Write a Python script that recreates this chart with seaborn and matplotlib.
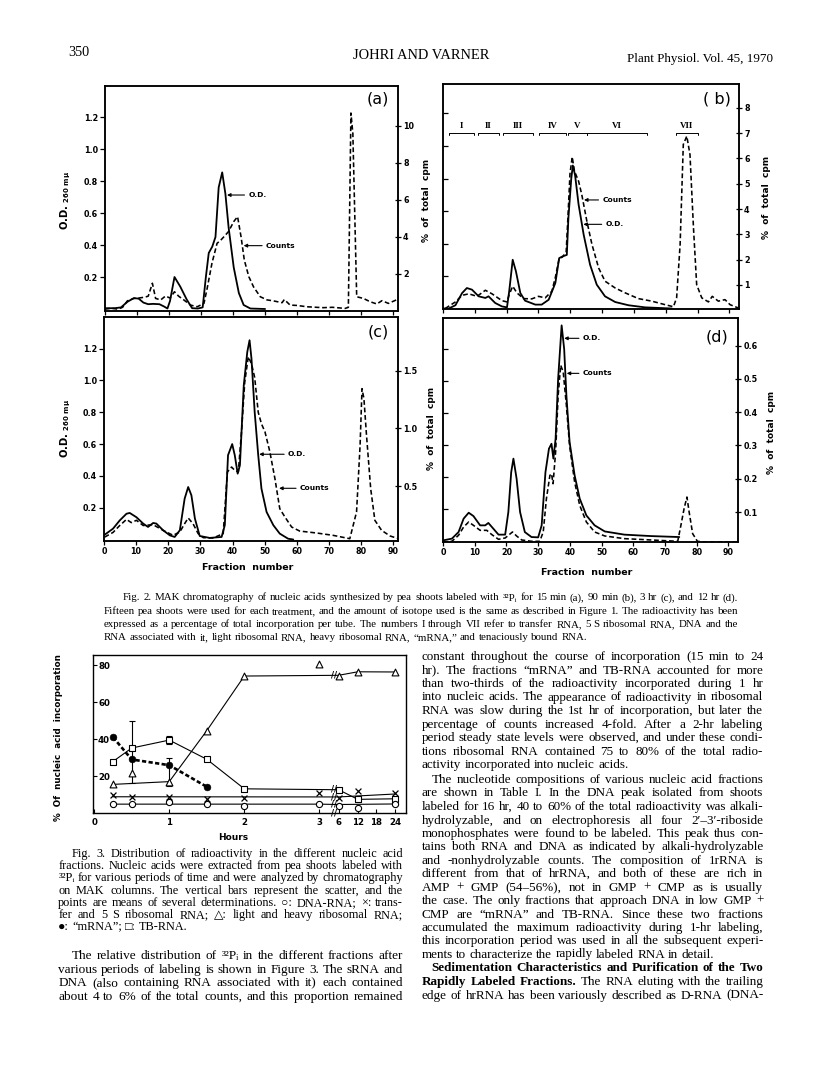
import matplotlib
matplotlib.use("Agg")
import numpy as np
import matplotlib.pyplot as plt
from matplotlib.font_manager import FontProperties
import seaborn as sns

sns.set_style("ticks")
plt.rcParams["font.family"] = ["DejaVu Sans"]
plt.rcParams["axes.linewidth"] = 1.1
plt.rcParams["axes.edgecolor"] = "black"
plt.rcParams["xtick.color"] = "black"
plt.rcParams["ytick.color"] = "black"
plt.rcParams["text.color"] = "black"
plt.rcParams["axes.labelcolor"] = "black"

SERIF = ["Liberation Serif", "DejaVu Serif", "DejaVu Sans"]

# ---------------------------------------------------------------- Fig. 2 data
FR_TICKS = [0, 10, 20, 30, 40, 50, 60, 70, 80, 90]
OD_TICKS = [0.2, 0.4, 0.6, 0.8, 1.0, 1.2]

# (a) 15 min
a_od_x = [0, 3, 5, 7, 9, 10.5, 12, 13.5, 15, 17, 18.5, 19.5, 20.3, 21.7, 23.5, 25.5, 27.2, 29, 30.5, 31.5,
          32.4, 33.5, 34.5, 35.5, 36.6, 37.6, 38.6, 40.2, 41.8, 43.3, 45.4, 50]
a_od_y = [0.005, 0.005, 0.01, 0.045, 0.068, 0.065, 0.04, 0.03, 0.032, 0.03, 0.015, 0.003, 0.05, 0.2, 0.14,
          0.06, 0.005, 0.003, 0.01, 0.2, 0.35, 0.39, 0.45, 0.76, 0.854, 0.72, 0.51, 0.26, 0.1, 0.025, 0.003, 0]
a_c_x = [0, 2, 4, 5.5, 7, 9, 10.5, 12.2, 13.5, 14.8, 15.8, 17.4, 18.9, 20.3, 21.7, 23, 24.6, 26.7, 28.8, 30.9,
         31.9, 33.4, 35, 36, 37.6, 38.6, 40.2, 41.4, 42.5, 43.5, 44.9, 46.4, 48.5, 50.6, 52.5, 55.3, 56, 57.8,
         60, 63, 66, 68.2, 71, 75, 76, 76.8, 77.4, 78.6, 80.7, 82.8, 84.9, 86.5, 88.5, 91]
a_c_y = [0.1, 0.15, 0.1, 0.2, 0.55, 0.68, 0.7, 0.74, 0.8, 1.5, 0.68, 0.6, 0.81, 0.7, 1.04, 0.8, 0.6, 0.32,
         0.23, 0.41, 1.22, 2.58, 3.66, 3.8, 4.1, 4.3, 4.83, 5.1, 4.0, 2.76, 1.86, 1.3, 0.77, 0.6, 0.55, 0.45,
         0.62, 0.32, 0.3, 0.23, 0.2, 0.18, 0.2, 0.14, 0.2, 10.7, 9.6, 0.77, 0.68, 0.5, 0.38, 0.56, 0.41, 0.6]

# (b) 90 min
b_od_x = [0, 1.8, 3.9, 6, 7.5, 9.1, 11.2, 13.3, 14.3, 16.4, 18.5, 20.1, 20.8, 21.9, 22.9, 24.3, 25.8, 29,
          31, 33.2, 35.3, 36.5, 37.5, 38.9, 39.4, 40.3, 40.8, 41.5, 42.6, 44.2, 46.2, 48.3, 50.9, 54.1, 58.3,
          63.5, 71.9]
b_od_y = [0, 0, 0.02, 0.095, 0.126, 0.116, 0.075, 0.065, 0.075, 0.034, 0.013, 0.007, 0.106, 0.3, 0.23, 0.095,
          0.048, 0.024, 0.024, 0.054, 0.157, 0.31, 0.32, 0.33, 0.557, 0.8, 0.88, 0.82, 0.64, 0.454, 0.27, 0.147,
          0.075, 0.04, 0.02, 0.007, 0]
b_c_x = [0.7, 3.9, 6, 8.1, 10.7, 13.3, 15.4, 18.5, 20.1, 20.8, 21.9, 23.2, 25.3, 27.9, 30, 32.1, 34.2, 35.3,
         36.5, 37.5, 38.7, 39.3, 39.9, 40.6, 41.3, 42.6, 43.6, 45.2, 46.8, 48.9, 50.9, 54.1, 57.2, 61.4, 65.6,
         69.8, 72.4, 73.4, 74.5, 75.5, 76.6, 77.6, 78.7, 79.7, 81.3, 83.4, 84.6, 86.5, 88.6, 90.2, 92.8]
b_c_y = [0.07, 0.33, 0.59, 0.65, 0.55, 0.79, 0.65, 0.38, 0.33, 0.62, 0.95, 0.69, 0.46, 0.45, 0.55, 0.49, 0.75,
         1.3, 2.05, 2.1, 2.3, 3.8, 5.4, 6.06, 5.5, 5.1, 4.57, 3.52, 2.6, 1.67, 1.15, 0.88, 0.69, 0.46, 0.36,
         0.22, 0.14, 0.49, 2.6, 6.55, 6.88, 6.15, 3.25, 1.01, 0.49, 0.33, 0.55, 0.36, 0.42, 0.22, 0.09]
roman_labels = ["I", "II", "III", "IV", "V", "VI", "VII"]
roman_start = [2, 10.9, 18.8, 30.3, 39.4, 45.2, 73.2]
roman_end = [9.6, 17.7, 28.3, 38.7, 45.2, 64.2, 80]

# (c) 3 hr
c_od_x = [0.2, 2.8, 4.9, 7, 8, 10.1, 12.2, 13.7, 15.3, 16.3, 18.4, 20.5, 22, 23.6, 25.1, 26.2, 27.2, 28.3,
          29.8, 32.9, 36.6, 37.6, 38.6, 39.9, 40.7, 41.6, 42.3, 43.5, 44.6, 45.3, 45.9, 46.9, 48, 49, 50.6,
          52.7, 54.7, 57.3, 58.9]
c_od_y = [0.03, 0.068, 0.12, 0.162, 0.167, 0.14, 0.1, 0.079, 0.104, 0.1, 0.058, 0.026, 0.016, 0.058, 0.257,
          0.33, 0.278, 0.131, 0.022, 0.01, 0.016, 0.09, 0.53, 0.6, 0.53, 0.414, 0.467, 0.97, 1.18, 1.253,
          1.137, 0.8, 0.53, 0.32, 0.173, 0.09, 0.037, 0.005, 0]
c_c_x = [0.2, 2.8, 4.9, 7, 8.5, 10.1, 12.2, 15.3, 18.4, 21.5, 23.6, 25.1, 26.2, 27.7, 29.3, 30.9, 34, 37.1,
         38.4, 39.7, 40.7, 41.8, 42.8, 43.8, 44.9, 45.9, 46.9, 48, 49, 50.1, 51.6, 53.2, 54.7, 56.3, 58.4,
         60.9, 66.2, 71.3, 76.5, 78.6, 79.7, 80.3, 80.9, 81.7, 83, 84.3, 86.4, 89, 91.6]
c_c_y = [0.06, 0.1, 0.16, 0.213, 0.185, 0.205, 0.16, 0.167, 0.118, 0.075, 0.104, 0.176, 0.225, 0.176, 0.09,
         0.055, 0.052, 0.09, 0.623, 0.666, 0.637, 0.623, 0.97, 1.4, 1.62, 1.56, 1.44, 1.14, 1.04, 0.97, 0.8,
         0.565, 0.306, 0.234, 0.147, 0.112, 0.095, 0.075, 0.046, 0.277, 0.854, 1.344, 1.257, 0.94, 0.479,
         0.205, 0.118, 0.07, 0.046]

# (d) 12 hr
d_od_x = [0, 2.8, 4.9, 6.5, 8.1, 9.6, 11.7, 13.3, 14.3, 15.4, 17.5, 19.6, 20.6, 21.5, 22.2, 23.2, 24.3, 25.8,
          27.9, 30, 31.1, 32.3, 33.4, 34.2, 34.8, 35.5, 36.3, 37.4, 38.2, 38.9, 39.9, 41.5, 43.1, 45.2, 47.8,
          51, 57.2, 65.6, 74.5]
d_od_y = [0.004, 0.015, 0.056, 0.14, 0.177, 0.156, 0.098, 0.098, 0.113, 0.088, 0.04, 0.04, 0.181, 0.43,
          0.515, 0.39, 0.181, 0.056, 0.025, 0.023, 0.098, 0.43, 0.577, 0.608, 0.515, 0.64, 1.015, 1.348, 1.2,
          0.91, 0.62, 0.41, 0.265, 0.16, 0.098, 0.06, 0.04, 0.031, 0.025]
d_c_x = [0, 2.8, 4.9, 6.5, 8.1, 9.6, 11.7, 13.8, 15.4, 17.5, 19.6, 21.9, 23.2, 24.8, 27.9, 30.5, 31.6, 32.6,
         33.7, 34.2, 34.7, 35.5, 36.3, 37.1, 37.9, 38.9, 39.9, 41.5, 43.1, 45.2, 47.8, 51, 57.2, 65.6, 74,
         75, 76, 76.9, 77.6, 78.7, 80.2, 82.3, 92.8]
d_c_y = [0.01, 0.012, 0.03, 0.055, 0.07, 0.06, 0.045, 0.045, 0.032, 0.018, 0.022, 0.04, 0.028, 0.016, 0.012,
         0.012, 0.04, 0.14, 0.21, 0.215, 0.185, 0.28, 0.45, 0.541, 0.521, 0.42, 0.3, 0.19, 0.12, 0.07, 0.04,
         0.028, 0.02, 0.016, 0.012, 0.06, 0.11, 0.145, 0.1, 0.035, 0.012, 0.01, 0.01]

# ---------------------------------------------------------------- Fig. 3 data
HOUR_TICKS = [0, 1, 2, 3, 6, 12, 18, 24]
PCT_TICKS = [20, 40, 60, 80]
tri_h = [0.25, 0.5, 1, 1.5, 2, 3, 6, 12, 24]
tri_v = [15.5, 21.6, 17, 44.6, 74.2, 80.9, 74.0, 76.5, 76.4]
tri_line_h = [0.25, 1, 1.5, 2, 6, 12, 24]
tri_line_v = [15.5, 17, 44.6, 74.2, 74.6, 76.5, 76.4]
sq_h = [0.25, 0.5, 1, 1.5, 2, 6, 12, 24]
sq_v = [27.9, 35.2, 39.5, 29.1, 13.1, 12.6, 7.4, 7.7]
mrna_h = [0.25, 0.5, 1, 1.5]
mrna_v = [41.1, 29.0, 25.9, 14.2]
x_h = [0.25, 0.5, 1, 1.5, 2, 3, 6, 12, 24]
x_v = [9.9, 8.4, 8.7, 7.7, 8.2, 10.8, 8.3, 11.7, 10.6]
x_line_h = [0.25, 6, 24]
x_line_v = [8.8, 8.7, 10.3]
circ_h = [0.25, 0.5, 1, 1.5, 2, 3, 6, 12, 24]
circ_v = [4.85, 4.85, 5.8, 4.8, 3.6, 5.0, 3.8, 2.7, 4.9]
circ_line_h = [0.25, 3, 6, 24]
circ_line_v = [4.8, 4.8, 4.6, 4.9]
err_h = [0.5, 1, 1]
err_lo = [16, 14.5, 37.5]
err_hi = [50, 30, 41.5]
break_h = 5.3
break_v = [74.8, 13.0, 8.7, 4.7, 0]

# ---------------------------------------------------------------- figure
W, H = 816, 1066
fig = plt.figure(figsize=(W / 100, H / 100), dpi=100)
fig.patch.set_facecolor("white")
renderer = fig.canvas.get_renderer()


def rect(x0, y0, x1, y1):
    return [x0 / W, 1 - y1 / H, (x1 - x0) / W, (y1 - y0) / H]


TK = dict(fontsize=5.8, fontweight="bold")


def panel(px, od_x, od_y, c_x, c_y, xlim, od_lim, c_lim, c_ticks, c_fmt, show_left, show_bottom):
    ax = fig.add_axes(rect(*px))
    sns.lineplot(x=od_x, y=od_y, ax=ax, color="black", linewidth=1.3, estimator=None, sort=False)
    ax2 = ax.twinx()
    sns.lineplot(x=c_x, y=c_y, ax=ax2, color="black", linewidth=1.15, estimator=None, sort=False)
    ax2.get_lines()[-1].set_dashes((3.0, 1.7))
    ax.set_xlim(*xlim)
    ax.set_ylim(*od_lim)
    ax2.set_ylim(*c_lim)
    ax.set_xticks(FR_TICKS, labels=[str(t) for t in FR_TICKS], **TK)
    ax.set_yticks(OD_TICKS, labels=["%.1f" % t for t in OD_TICKS], **TK)
    ax2.set_yticks(c_ticks, labels=[c_fmt % t for t in c_ticks], **TK)
    ax.tick_params(axis="x", direction="out", length=3, width=0.9, pad=1.2, labelbottom=show_bottom, top=False)
    ax.tick_params(axis="y", direction="out" if show_left else "in", length=3.5, width=0.9, pad=1.5,
                   labelleft=show_left, right=False)
    ax2.tick_params(axis="y", direction="inout", length=5, width=0.9, pad=1.2)
    for sp in list(ax.spines.values()) + list(ax2.spines.values()):
        sp.set_linewidth(1.1)
        sp.set_color("black")
    ax.set_xlabel("")
    ax.set_ylabel("")
    ax2.set_ylabel("")
    return ax, ax2


def arrows(ax, items):
    for label, tx, ty, lx in items:
        ax.annotate(label, xy=(tx, ty), xytext=(lx, ty), fontsize=5.4, fontweight="bold", ha="left",
                    va="center",
                    arrowprops=dict(arrowstyle="-|>", color="black", lw=0.8, mutation_scale=5,
                                    shrinkA=0.5, shrinkB=0))


OD_LABEL = r"O.D. $_{\mathregular{260\ m\mu}}$"
CPM_LABEL = "%  of  total  cpm"

# (a)
ax_a, ax_a2 = panel((105, 86, 398, 311), a_od_x, a_od_y, a_c_x, a_c_y, (0, 91.5), (-0.0125, 1.394),
                    (0, 12.16), [2, 4, 6, 8, 10], "%d", True, False)
ax_a.set_ylabel(OD_LABEL, fontsize=7.2, fontweight="bold")
ax_a.yaxis.set_label_coords(-0.11, 0.49)
ax_a2.set_ylabel(CPM_LABEL, fontsize=6.5, fontweight="bold", rotation=90)
ax_a2.yaxis.set_label_coords(1.082, 0.49)
ax_a.text(0.932, 0.942, "(a)", transform=ax_a.transAxes, fontsize=11.5, ha="center", va="center")
arrows(ax_a, [("O.D.", 38.1, 0.7125, 44.8), ("Counts", 43.3, 0.396, 50.3)])

# (b)
ax_b, ax_b2 = panel((443, 84, 739, 309), b_od_x, b_od_y, b_c_x, b_c_y, (0, 93), (-0.003, 1.3815),
                    (0.05, 8.94), [1, 2, 3, 4, 5, 6, 7, 8], "%d", False, False)
ax_b2.set_ylabel(CPM_LABEL, fontsize=6.5, fontweight="bold", rotation=90)
ax_b2.yaxis.set_label_coords(1.077, 0.498)
ax_b.text(0.925, 0.933, "( b)", transform=ax_b.transAxes, fontsize=11.5, ha="center", va="center")
arrows(ax_b, [("Counts", 44.3, 0.668, 50.1), ("O.D.", 44.1, 0.518, 51.1)])
for lab, s, e in zip(roman_labels, roman_start, roman_end):
    ax_b.plot([s, s, e, e], [1.066, 1.082, 1.082, 1.066], color="black", lw=0.7)
    ax_b.text((s + e) / 2, 1.125, lab, family=SERIF, fontsize=6.5, fontweight="bold", ha="center",
              va="center")

# (c)
ax_c, ax_c2 = panel((104, 317, 398, 541), c_od_x, c_od_y, c_c_x, c_c_y, (0, 91.5), (-0.0094, 1.399),
                    (0.026, 1.964), [0.5, 1.0, 1.5], "%.1f", True, True)
ax_c.set_ylabel(OD_LABEL, fontsize=7.2, fontweight="bold")
ax_c.yaxis.set_label_coords(-0.105, 0.504)
ax_c2.set_ylabel(CPM_LABEL, fontsize=6.5, fontweight="bold", rotation=90)
ax_c2.yaxis.set_label_coords(1.098, 0.504)
ax_c.set_xlabel("Fraction  number", fontsize=6.8, fontweight="bold")
ax_c.xaxis.set_label_coords(0.49, -0.098)
ax_c.text(0.932, 0.934, "(c)", transform=ax_c.transAxes, fontsize=11.5, ha="center", va="center")
arrows(ax_c, [("O.D.", 48.3, 0.536, 57.3), ("Counts", 54.5, 0.322, 61.0)])

# (d)
ax_d, ax_d2 = panel((443, 318, 738, 542), d_od_x, d_od_y, d_c_x, d_c_y, (0, 93), (-0.006, 1.394),
                    (0.0099, 0.683), [0.1, 0.2, 0.3, 0.4, 0.5, 0.6], "%.1f", False, True)
ax_d2.set_ylabel(CPM_LABEL, fontsize=6.5, fontweight="bold", rotation=90)
ax_d2.yaxis.set_label_coords(1.097, 0.49)
ax_d.set_xlabel("Fraction  number", fontsize=6.8, fontweight="bold")
ax_d.xaxis.set_label_coords(0.487, -0.116)
ax_d.text(0.928, 0.917, "(d)", transform=ax_d.transAxes, fontsize=11.5, ha="center", va="center")
arrows(ax_d, [("O.D.", 38.2, 1.267, 44.1), ("Counts", 39.0, 1.048, 44.1)])

# ---------------------------------------------------------------- Fig. 3
H_K = [-100, 0, 3, 6, 12, 18, 24, 100]
U_K = [-100, 0, 3, 3.256, 3.512, 3.752, 4.013, 4.013 + 76 * 0.0435]


def fwd(h):
    return np.interp(h, H_K, U_K)


def inv(u):
    return np.interp(u, U_K, H_K)


ax3 = fig.add_axes(rect(92.7, 655, 405.7, 813))
sns.lineplot(x=tri_line_h, y=tri_line_v, ax=ax3, color="black", linewidth=0.8, estimator=None, sort=False)
sns.lineplot(x=sq_h, y=sq_v, ax=ax3, color="black", linewidth=0.8, estimator=None, sort=False)
sns.lineplot(x=x_line_h, y=x_line_v, ax=ax3, color="black", linewidth=0.8, estimator=None, sort=False)
sns.lineplot(x=circ_line_h, y=circ_line_v, ax=ax3, color="black", linewidth=0.8, estimator=None, sort=False)
sns.lineplot(x=mrna_h, y=mrna_v, ax=ax3, color="black", linewidth=1.9, estimator=None, sort=False)
ax3.get_lines()[-1].set_dashes((1.6, 0.9))
mid = [(lo + hi) / 2 for lo, hi in zip(err_lo, err_hi)]
ax3.errorbar(err_h, mid, yerr=[[m - lo for m, lo in zip(mid, err_lo)], [hi - m for m, hi in zip(mid, err_hi)]],
             fmt="none", ecolor="black", elinewidth=0.8, capsize=2.5, capthick=0.8)
sns.scatterplot(x=tri_h, y=tri_v, ax=ax3, marker="^", s=24, color="white", edgecolor="black", linewidth=0.8,
                zorder=4)
sns.scatterplot(x=sq_h, y=sq_v, ax=ax3, marker="s", s=20, color="white", edgecolor="black", linewidth=0.8,
                zorder=4)
sns.scatterplot(x=circ_h, y=circ_v, ax=ax3, marker="o", s=20, color="white", edgecolor="black",
                linewidth=0.8, zorder=4)
sns.scatterplot(x=x_h, y=x_v, ax=ax3, marker="x", s=18, color="black", linewidth=0.9, zorder=4)
sns.scatterplot(x=mrna_h, y=mrna_v, ax=ax3, marker="o", s=24, color="black", edgecolor="black", zorder=5)
for bv in break_v:
    ax3.text(break_h, bv, "//", fontsize=6, fontweight="bold", ha="center", va="center", clip_on=False,
             zorder=6)
ax3.set_xscale("function", functions=(fwd, inv))
ax3.set_xlim(inv(-0.02), inv(4.15))
ax3.set_ylim(0, 85.6)
ax3.set_xticks(HOUR_TICKS, labels=[str(t) for t in HOUR_TICKS], fontsize=6.2, fontweight="bold")
ax3.set_yticks(PCT_TICKS, labels=[str(t) for t in PCT_TICKS], fontsize=6.2, fontweight="bold")
ax3.minorticks_off()
ax3.tick_params(axis="x", direction="in", length=3, width=0.8, pad=3.5, top=False)
ax3.tick_params(axis="y", direction="in", length=3, width=0.8, pad=-12.5, right=False)
for sp in ax3.spines.values():
    sp.set_linewidth(1.0)
    sp.set_color("black")
ax3.set_xlabel("Hours", fontsize=6.5, fontweight="bold")
ax3.xaxis.set_label_coords(0.448, -0.127)
ax3.set_ylabel("%  Of  nucleic  acid  incorporation", fontsize=6.3, fontweight="bold")
ax3.yaxis.set_label_coords(-0.095, 0.48)

# ---------------------------------------------------------------- page text


def tw(s, size, weight="normal"):
    fp = FontProperties(family=SERIF, size=size, weight=weight)
    w, h, d = renderer.get_text_width_height_descent(s, fp, ismath=False)
    return w


def parse(line):
    out = []
    for w in line.split(" "):
        if w.startswith("§"):
            out.append((w[1:], "bold"))
        else:
            out.append((w, "normal"))
    return out


def block(lines, x0, x1, size):
    ratios = []
    for text, y, ind, just in lines:
        if not just:
            continue
        words = parse(text)
        sp = tw("n n", size) - tw("nn", size)
        nat = sum(tw(w, size, wt) for w, wt in words) + (len(words) - 1) * sp
        ratios.append((x1 - x0 - ind) / nat)
    size2 = size * min(min(ratios) * 0.99, 1.12)
    sp2 = tw("n n", size2) - tw("nn", size2)
    for text, y, ind, just in lines:
        words = parse(text)
        ws = [tw(w, size2, wt) for w, wt in words]
        start = x0 + ind
        if just and len(words) > 1:
            gap = (x1 - start - sum(ws)) / (len(words) - 1)
        else:
            gap = sp2
        x = start
        for (w, wt), ww in zip(words, ws):
            fig.text(x / W, 1 - y / H, w, fontsize=size2, fontweight=wt, family=SERIF, ha="left", va="center")
            x += ww + gap


def fit(s, x0, x1, y, ha):
    size = 10 * (x1 - x0) / tw(s, 10)
    x = {"left": x0, "center": (x0 + x1) / 2, "right": x1}[ha]
    fig.text(x / W, 1 - y / H, s, fontsize=size, family=SERIF, ha=ha, va="center")


fit("350", 68, 89, 52, "left")
fit("JOHRI AND VARNER", 353, 490, 55.5, "center")
fit("Plant Physiol. Vol. 45, 1970", 626, 773, 59.3, "right")

block([
    ("Fig. 2. MAK chromatography of nucleic acids synthesized by pea shoots labeled with ³²Pᵢ for 15 min (a), "
     "90 min (b), 3 hr (c), and 12 hr (d).", 598, 19, True),
    ("Fifteen pea shoots were used for each treatment, and the amount of isotope used is the same as described "
     "in Figure 1. The radioactivity has been", 611.5, 0, True),
    ("expressed as a percentage of total incorporation per tube. The numbers I through VII refer to transfer "
     "RNA, 5 S ribosomal RNA, DNA and the", 624.8, 0, True),
    ("RNA associated with it, light ribosomal RNA, heavy ribosomal RNA, “mRNA,” and tenaciously bound RNA.",
     638, 0, False),
], 104, 738, 7.5)

block([
    ("Fig. 3. Distribution of radioactivity in the different nucleic acid", 854, 13.4, True),
    ("fractions. Nucleic acids were extracted from pea shoots labeled with", 866, 0, True),
    ("³²Pᵢ for various periods of time and were analyzed by chromatography", 878.3, 0, True),
    ("on MAK columns. The vertical bars represent the scatter, and the", 890.7, 0, True),
    ("points are means of several determinations. ○: DNA-RNA; ×: trans-", 903, 0, True),
    ("fer and 5 S ribosomal RNA; △: light and heavy ribosomal RNA;", 915, 0, True),
    ("●: “mRNA”; □: TB-RNA.", 927, 0, False),
], 58.3, 403, 8.2)

block([
    ("The relative distribution of ³²Pᵢ in the different fractions after", 956, 13.4, True),
    ("various periods of labeling is shown in Figure 3. The sRNA and", 969.7, 0, True),
    ("DNA (also containing RNA associated with it) each contained", 983, 0, True),
    ("about 4 to 6% of the total counts, and this proportion remained", 996.7, 0, True),
], 58.3, 403, 9)

block([
    ("constant throughout the course of incorporation (15 min to 24", 657.3, 0, True),
    ("hr). The fractions “mRNA” and TB-RNA accounted for more", 670.7, 0, True),
    ("than two-thirds of the radioactivity incorporated during 1 hr", 684, 0, True),
    ("into nucleic acids. The appearance of radioactivity in ribosomal", 697.5, 0, True),
    ("RNA was slow during the 1st hr of incorporation, but later the", 711.3, 0, True),
    ("percentage of counts increased 4-fold. After a 2-hr labeling", 724.8, 0, True),
    ("period steady state levels were observed, and under these condi-", 738.2, 0, True),
    ("tions ribosomal RNA contained 75 to 80% of the total radio-", 751.6, 0, True),
    ("activity incorporated into nucleic acids.", 765.3, 0, False),
    ("The nucleotide compositions of various nucleic acid fractions", 780, 10, True),
    ("are shown in Table I. In the DNA peak isolated from shoots", 793.4, 0, True),
    ("labeled for 16 hr, 40 to 60% of the total radioactivity was alkali-", 806.9, 0, True),
    ("hydrolyzable, and on electrophoresis all four 2′–3′-riboside", 820.6, 0, True),
    ("monophosphates were found to be labeled. This peak thus con-", 834, 0, True),
    ("tains both RNA and DNA as indicated by alkali-hydrolyzable", 847.4, 0, True),
    ("and -nonhydrolyzable counts. The composition of 1rRNA is", 860.8, 0, True),
    ("different from that of hrRNA, and both of these are rich in", 874.2, 0, True),
    ("AMP + GMP (54–56%), not in GMP + CMP as is usually", 888, 0, True),
    ("the case. The only fractions that approach DNA in low GMP +", 901, 0, True),
    ("CMP are “mRNA” and TB-RNA. Since these two fractions", 915, 0, True),
    ("accumulated the maximum radioactivity during 1-hr labeling,", 927.6, 0, True),
    ("this incorporation period was used in all the subsequent experi-", 941, 0, True),
    ("ments to characterize the rapidly labeled RNA in detail.", 954.5, 0, False),
    ("§Sedimentation §Characteristics §and §Purification §of §the §Two", 968.3, 10, True),
    ("§Rapidly §Labeled §Fractions. The RNA eluting with the trailing", 982, 0, True),
    ("edge of hrRNA has been variously described as D-RNA (DNA-", 995.7, 0, True),
], 421.7, 763.3, 9)

fig.savefig("out.png", dpi=100, facecolor="white")
